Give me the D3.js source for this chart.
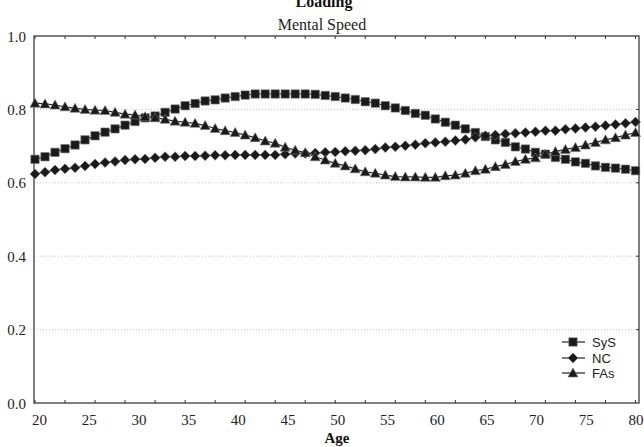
<!DOCTYPE html>
<html><head><meta charset="utf-8">
<script src="https://cdn.jsdelivr.net/npm/d3@7"></script>
<style>
html,body{margin:0;padding:0;background:#fff;}
svg{display:block;}
</style></head>
<body>
<script>
const ages = d3.range(20, 81);
const sysValues = [0.664,0.671,0.683,0.693,0.703,0.717,0.728,0.738,0.747,0.757,
 0.767,0.777,0.782,0.792,0.801,0.810,0.816,0.823,0.826,0.831,
 0.835,0.839,0.842,0.842,0.842,0.842,0.842,0.842,0.841,0.838,
 0.835,0.831,0.827,0.821,0.817,0.810,0.804,0.797,0.789,0.784,
 0.774,0.765,0.757,0.747,0.737,0.726,0.717,0.710,0.698,0.692,
 0.683,0.678,0.669,0.664,0.657,0.653,0.646,0.642,0.640,0.637,0.633];
const ncValues = [0.624,0.629,0.635,0.638,0.641,0.646,0.651,0.655,0.658,0.662,
 0.664,0.665,0.668,0.671,0.671,0.673,0.673,0.674,0.675,0.675,
 0.676,0.676,0.676,0.676,0.676,0.678,0.680,0.680,0.681,0.683,
 0.684,0.686,0.687,0.689,0.692,0.696,0.698,0.701,0.704,0.708,
 0.710,0.712,0.715,0.718,0.724,0.728,0.730,0.733,0.735,0.737,
 0.739,0.742,0.742,0.746,0.748,0.751,0.753,0.756,0.759,0.762,0.766];
const faValues = [0.817,0.815,0.812,0.807,0.803,0.800,0.798,0.797,0.792,0.787,
 0.785,0.780,0.777,0.773,0.768,0.765,0.762,0.756,0.748,0.742,
 0.737,0.730,0.723,0.714,0.708,0.697,0.689,0.682,0.671,0.662,
 0.653,0.646,0.638,0.630,0.626,0.621,0.617,0.616,0.616,0.615,
 0.615,0.619,0.621,0.626,0.633,0.637,0.644,0.650,0.658,0.664,
 0.668,0.678,0.685,0.691,0.696,0.703,0.710,0.717,0.723,0.730,0.737];
const seriesNames = ["SyS", "NC", "FAs"];
const xTickLabels = [20,25,30,35,40,45,50,55,60,65,70,75,80];
const yTickLabels = [0.0,0.2,0.4,0.6,0.8,1.0];
const xMinorTicks = d3.range(20, 81, 3);
const titleText = "Loading";
const subtitleText = "Mental Speed";
const xTitle = "Age";

const W = 644, H = 447;
const svg = d3.select("body").append("svg").attr("width", W).attr("height", H);

const x = d3.scaleLinear().domain([20, 80]).range([35, 635.5]);
const xLab = d3.scaleLinear().domain([20, 80]).range([39.5, 636]);
const y = d3.scaleLinear().domain([0, 1]).range([403, 36]);
const pLeft = 34, pRight = 639, pTop = y(1), pBottom = y(0);

const serif = "'Liberation Serif','Times New Roman',Times,serif";
const sans = "'Liberation Sans',Arial,Helvetica,sans-serif";

// gridlines
svg.append("g").selectAll("line").data([0.2,0.4,0.6,0.8]).join("line")
  .attr("x1", pLeft).attr("x2", pRight)
  .attr("y1", d => y(d)).attr("y2", d => y(d))
  .attr("stroke", "#c8c8c8").attr("stroke-width", 1).attr("stroke-dasharray", "1,2");

// frame
svg.append("rect").attr("x", pLeft).attr("y", pTop).attr("width", pRight-pLeft).attr("height", pBottom-pTop)
  .attr("fill", "none").attr("stroke", "#4a4a4a").attr("stroke-width", 1.4);

// ticks top & bottom
const tg = svg.append("g").attr("stroke", "#333").attr("stroke-width", 1);
tg.selectAll("line.b").data(xMinorTicks).join("line").attr("class","b")
  .attr("x1", d => x(d)).attr("x2", d => x(d)).attr("y1", pBottom).attr("y2", pBottom-3);
tg.selectAll("line.t").data(xMinorTicks).join("line").attr("class","t")
  .attr("x1", d => x(d)).attr("x2", d => x(d)).attr("y1", pTop).attr("y2", pTop+3);
tg.selectAll("line.r").data([0.2,0.4,0.6,0.8]).join("line").attr("class","r")
  .attr("x1", pRight).attr("x2", pRight-3).attr("y1", d => y(d)).attr("y2", d => y(d));

// x labels
svg.append("g").selectAll("text").data(xTickLabels).join("text")
  .attr("x", d => xLab(d)).attr("y", 425).attr("text-anchor", "middle")
  .attr("font-family", serif).attr("font-size", 15).attr("fill", "#222")
  .text(d => d);
// y labels
svg.append("g").selectAll("text").data(yTickLabels).join("text")
  .attr("x", 26).attr("y", d => y(d) + 5.5).attr("text-anchor", "end")
  .attr("font-family", serif).attr("font-size", 15).attr("fill", "#222")
  .text(d => d.toFixed(1));

// titles
svg.append("text").attr("x", 324).attr("y", 7).attr("text-anchor", "middle")
  .attr("font-family", serif).attr("font-size", 16).attr("font-weight", "bold").attr("fill", "#111")
  .text(titleText);
svg.append("text").attr("x", 322).attr("y", 30).attr("text-anchor", "middle")
  .attr("font-family", serif).attr("font-size", 16).attr("fill", "#222")
  .text(subtitleText);
svg.append("text").attr("x", 337).attr("y", 443).attr("text-anchor", "middle")
  .attr("font-family", serif).attr("font-size", 15).attr("font-weight", "bold").attr("fill", "#111")
  .text(xTitle);

// marker shapes
const shapes = {
  square: "M-4.2,-4.2H4.2V4.2H-4.2Z",
  diamond: "M0,-5L5,0L0,5L-5,0Z",
  triangle: "M0,-5L5,4L-5,4Z"
};
const series = [
  {name: seriesNames[0], values: sysValues, shape: "square"},
  {name: seriesNames[1], values: ncValues, shape: "diamond"},
  {name: seriesNames[2], values: faValues, shape: "triangle"}
];
const line = d3.line().x((d,i) => x(ages[i])).y(d => y(d));

series.forEach(s => {
  svg.append("path").attr("d", line(s.values)).attr("fill", "none")
    .attr("stroke", "#222").attr("stroke-width", 1.2);
});
series.forEach(s => {
  svg.append("g").selectAll("path").data(s.values).join("path")
    .attr("d", shapes[s.shape])
    .attr("transform", (d,i) => `translate(${x(ages[i])},${y(d)})`)
    .attr("fill", "#1a1a1a").attr("stroke", "#777").attr("stroke-width", 0.6);
});

// legend
const legY = [342, 358, 373];
const lg = svg.append("g");
series.forEach((s, i) => {
  lg.append("line").attr("x1", 562).attr("x2", 585).attr("y1", legY[i]).attr("y2", legY[i])
    .attr("stroke", "#222").attr("stroke-width", 1.2);
  lg.append("path").attr("d", shapes[s.shape]).attr("transform", `translate(573,${legY[i]})`)
    .attr("fill", "#1a1a1a").attr("stroke", "#777").attr("stroke-width", 0.6);
  lg.append("text").attr("x", 592).attr("y", legY[i] + 4.5)
    .attr("font-family", sans).attr("font-size", 13).attr("fill", "#222").text(s.name);
});
</script>
</body></html>
